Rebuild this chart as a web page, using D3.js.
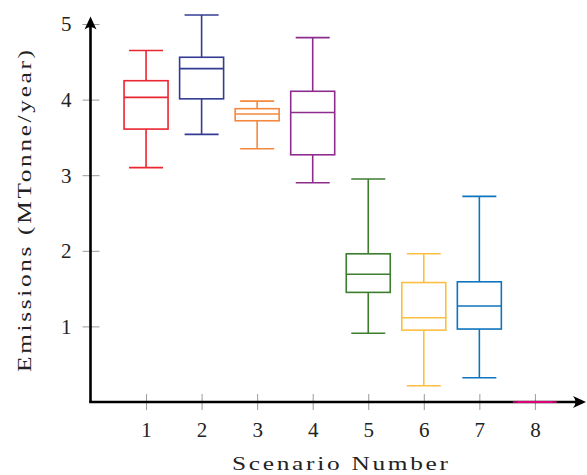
<!DOCTYPE html>
<html>
<head>
<meta charset="utf-8">
<script src="https://cdn.jsdelivr.net/npm/d3@7"></script>
<style>
  html, body { margin: 0; padding: 0; background: #fff; }
  svg { display: block; }
</style>
</head>
<body>
<svg id="chart" width="587" height="475"></svg>
<script>
// Scenario numbers and five-number summaries (MTonne/year)
const scenarios   = [1, 2, 3, 4, 5, 6, 7, 8];
const whiskerLow  = [3.10, 3.54, 3.35, 2.90, 0.91, 0.215, 0.32, 0];
const quartile1   = [3.61, 4.01, 3.72, 3.27, 1.45, 0.95, 0.965, 0];
const medians     = [4.03, 4.41, 3.81, 3.83, 1.69, 1.115, 1.27, 0];
const quartile3   = [4.25, 4.56, 3.88, 4.11, 1.96, 1.58, 1.59, 0];
const whiskerHigh = [4.65, 5.12, 3.98, 4.82, 2.95, 1.96, 2.72, 0];
const colors = ["#ea2630", "#333b93", "#f4883e", "#8e2c8e", "#3c7d2e", "#fdbf41", "#0e74bd", "#e5007d"];
const xTicks = [1, 2, 3, 4, 5, 6, 7, 8];
const yTicks = [1, 2, 3, 4, 5];

const FONT = "'Liberation Serif', 'DejaVu Serif', serif";
const svg = d3.select("#chart");
const x = d3.scaleLinear().domain([0, 8.92]).range([90.5, 586]);
const y = d3.scaleLinear().domain([0, 5]).range([402, 24]);

const boxHalf = 22, capHalf = 17;
const data = scenarios.map((s, i) => ({
  s, lo: whiskerLow[i], q1: quartile1[i], med: medians[i], q3: quartile3[i], hi: whiskerHigh[i], c: colors[i]
}));

// Tick marks and labels
const yAxis = svg.append("g").attr("transform", `translate(${x(0)},0)`)
  .call(d3.axisLeft(y).tickValues(yTicks).tickSize(8).tickFormat(d3.format("d")));
yAxis.select(".domain").remove();
yAxis.attr("font-family", FONT).attr("font-size", 21);
yAxis.selectAll(".tick line").attr("x1", -8).attr("x2", 9).attr("stroke", "#9a9a9a").attr("stroke-width", 1);
yAxis.selectAll(".tick text").attr("x", -19).attr("dy", "0.33em").attr("fill", "#222");

const xAxis = svg.append("g").attr("transform", `translate(0,${y(0)})`)
  .call(d3.axisBottom(x).tickValues(xTicks).tickSize(8).tickFormat(d3.format("d")));
xAxis.select(".domain").remove();
xAxis.attr("font-family", FONT).attr("font-size", 21);
xAxis.selectAll(".tick line").attr("y1", -8).attr("y2", 8).attr("stroke", "#9a9a9a").attr("stroke-width", 1);
xAxis.selectAll(".tick text").attr("y", 35).attr("dy", 0).attr("fill", "#222");

// Axis lines with arrow heads
const axes = svg.append("g").attr("stroke", "#000").attr("stroke-width", 2.6).attr("fill", "none");
axes.append("path").attr("d", `M${x(0)},${y(0)}V${y(5.1) + 4}`);
axes.append("path").attr("d", `M${x(0) - 1.3},${y(0)}H${x(8.92) - 4}`);
svg.append("path").attr("fill", "#000")
  .attr("d", `M${x(0)},${y(5.1)} L${x(0) - 6},${y(5.1) + 13} Q${x(0)},${y(5.1) + 8} ${x(0) + 6},${y(5.1) + 13} Z`);
svg.append("path").attr("fill", "#000")
  .attr("d", `M${x(8.92)},${y(0)} L${x(8.92) - 13},${y(0) - 6} Q${x(8.92) - 8},${y(0)} ${x(8.92) - 13},${y(0) + 6} Z`);

// Box plots (drawn over the axes)
const g = svg.append("g").attr("fill", "none").attr("stroke-width", 1.6);
data.forEach(d => {
  const cx = x(d.s);
  const b = g.append("g").attr("stroke", d.c);
  b.append("line").attr("x1", cx).attr("x2", cx).attr("y1", y(d.q3)).attr("y2", y(d.hi));
  b.append("line").attr("x1", cx).attr("x2", cx).attr("y1", y(d.q1)).attr("y2", y(d.lo));
  b.append("line").attr("x1", cx - capHalf).attr("x2", cx + capHalf).attr("y1", y(d.hi)).attr("y2", y(d.hi));
  b.append("line").attr("x1", cx - capHalf).attr("x2", cx + capHalf).attr("y1", y(d.lo)).attr("y2", y(d.lo));
  b.append("rect").attr("x", cx - boxHalf).attr("width", boxHalf * 2)
    .attr("y", y(d.q3)).attr("height", y(d.q1) - y(d.q3)).attr("fill", d.q3 > d.q1 ? "#fff" : "none");
  b.append("line").attr("x1", cx - boxHalf).attr("x2", cx + boxHalf).attr("y1", y(d.med)).attr("y2", y(d.med));
});

// Axis titles: widened glyphs plus a little letter spacing to fill the span
function title(label, cx, cy, rotate, span) {
  const stretch = 1.3;
  svg.append("text").attr("font-family", FONT).attr("font-size", 19.5)
    .attr("fill", "#222").attr("text-anchor", "middle")
    .attr("textLength", span / stretch).attr("lengthAdjust", "spacing")
    .attr("transform", `translate(${cx},${cy}) rotate(${rotate}) scale(${stretch},1)`)
    .text(label);
}
title("Scenario Number", 340, 470, 0, 216);
title("Emissions (MTonne/year)", 31, 211, -90, 322);
</script>
</body>
</html>
